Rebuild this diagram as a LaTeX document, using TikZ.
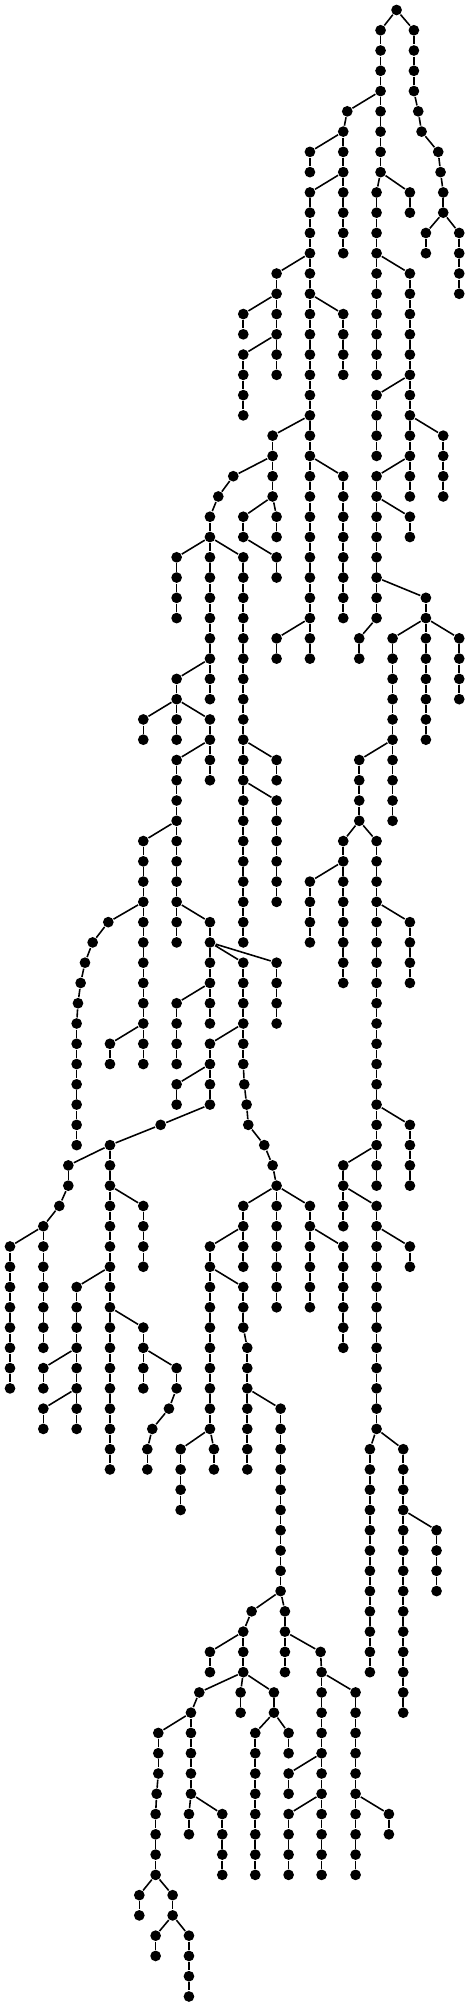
\documentclass[tikz,border=0pt]{standalone}
\usepackage{tikz}
\tikzset{
    %Define style for tree vertices
    dot/.style={
           circle,
           fill=black,
           inner sep=0pt,
           minimum size=1.07mm},
    % Define edge style
    link/.style={
           black,
           line width=0.45pt}
}
% vertical run of vertices in one column, joined top to bottom
\newcommand\chain[3]{%
  \foreach \l in {#2,...,#3}{%
    \node[dot] (n#1-\l) at (#1,\l) {};
    \ifnum\l>#2\relax
      \pgfmathtruncatemacro\prev{\l-1}%
      \draw[link] (n#1-\prev) -- (n#1-\l);
    \fi}}

\begin{document}
\begin{tikzpicture}[x=0.03333mm, y=-2.027mm]
    \useasboundingbox (0,-0.4933) rectangle (1410,98.47);
    %root and right part
    \node[dot] (n1190-0) at (1190,0) {};
    \chain{1142}{1}{8}
    \chain{1242}{1}{4}
    \chain{1255}{5}{5}
    \chain{1265}{6}{6}
    \chain{1315}{7}{7}
    \chain{1322}{8}{8}
    \chain{1330}{9}{10}
    \chain{1278}{11}{12}
    \chain{1378}{11}{14}
    \chain{1042}{5}{5}
    \chain{1030}{6}{12}
    \chain{930}{7}{8}
    \chain{930}{9}{32}
    \chain{1030}{15}{18}
    \chain{1030}{23}{30}
    \chain{830}{31}{32}
    \chain{830}{13}{18}
    \chain{730}{15}{16}
    \chain{730}{17}{20}
    \chain{818}{21}{24}
    \chain{700}{23}{23}
    \chain{655}{24}{24}
    \chain{630}{25}{34}
    \chain{530}{27}{30}
    \chain{730}{27}{46}
    \chain{830}{37}{38}
    \chain{830}{39}{44}
    \chain{730}{25}{26}
    \chain{830}{27}{28}
    \chain{830}{25}{26}
    \chain{1130}{9}{18}
    \chain{1230}{9}{10}
    \chain{1230}{13}{24}
    \chain{1130}{19}{22}
    \chain{1330}{21}{24}
    \chain{1130}{23}{30}
    \chain{1230}{25}{26}
    \chain{1078}{31}{32}
    \chain{1278}{29}{36}
    \chain{1378}{31}{34}
    \chain{1178}{31}{40}
    \chain{1078}{37}{40}
    \chain{1030}{41}{48}
    \chain{930}{43}{46}
    \chain{1130}{41}{58}
    \chain{1230}{45}{48}
    \chain{1230}{55}{58}
    \chain{1030}{57}{60}
    \chain{1130}{59}{70}
    \chain{1230}{61}{62}
    \chain{1110}{71}{82}
    \chain{1210}{71}{84}
    \chain{1310}{75}{78}
    %left part
    \chain{530}{33}{36}
    \chain{430}{35}{36}
    \chain{630}{35}{38}
    \chain{530}{37}{46}
    \chain{430}{41}{52}
    \chain{325}{45}{45}
    \chain{278}{46}{46}
    \chain{255}{47}{47}
    \chain{242}{48}{48}
    \chain{234}{49}{49}
    \chain{230}{50}{56}
    \chain{330}{51}{52}
    \chain{630}{45}{50}
    \chain{730}{47}{52}
    \chain{733}{53}{53}
    \chain{740}{54}{54}
    \chain{745}{55}{55}
    \chain{793}{56}{56}
    \chain{818}{57}{57}
    \chain{830}{47}{50}
    \chain{530}{49}{52}
    \chain{630}{51}{54}
    \chain{530}{53}{54}
    \chain{482}{55}{55}
    \chain{330}{56}{72}
    \chain{430}{59}{62}
    \chain{230}{63}{70}
    \chain{130}{67}{68}
    \chain{130}{69}{70}
    \chain{430}{65}{68}
    \chain{530}{67}{68}
    \chain{507}{69}{69}
    \chain{457}{70}{70}
    \chain{442}{71}{72}
    \chain{205}{57}{58}
    \chain{178}{59}{59}
    \chain{130}{60}{66}
    \chain{30}{61}{68}
    %lower part
    \chain{830}{58}{64}
    \chain{730}{59}{62}
    \chain{630}{61}{70}
    \chain{730}{63}{65}
    \chain{742}{66}{72}
    \chain{842}{69}{78}
    \chain{542}{71}{74}
    \chain{642}{71}{72}
    \chain{930}{59}{64}
    \chain{1030}{61}{66}
    \chain{755}{79}{79}
    \chain{730}{80}{82}
    \chain{630}{81}{82}
    \chain{855}{79}{82}
    \chain{962}{81}{81}
    \chain{965}{82}{92}
    \chain{1067}{83}{92}
    \chain{1167}{89}{90}
    \chain{866}{87}{88}
    \chain{866}{89}{92}
    \chain{598}{83}{83}
    \chain{573}{84}{88}
    \chain{475}{85}{87}
    \chain{470}{88}{88}
    \chain{467}{89}{92}
    \chain{418}{93}{94}
    \chain{518}{93}{94}
    \chain{467}{95}{96}
    \chain{567}{95}{98}
    \chain{567}{89}{90}
    \chain{667}{89}{92}
    \chain{722}{83}{84}
    \chain{822}{83}{84}
    \chain{766}{85}{92}
    \chain{866}{85}{86}
    %branching edges
    \draw[link] (n1190-0) -- (n1142-1) (n1190-0) -- (n1242-1);
    \draw[link] (n1242-4) -- (n1255-5) -- (n1265-6) -- (n1315-7) -- (n1322-8) -- (n1330-9);
    \draw[link] (n1330-10) -- (n1278-11) (n1330-10) -- (n1378-11);
    \draw[link] (n1142-4) -- (n1042-5) -- (n1030-6) (n1030-6) -- (n930-7);
    \draw[link] (n1030-8) -- (n930-9);
    \draw[link] (n930-12) -- (n830-13) (n930-14) -- (n1030-15) (n930-20) -- (n818-21);
    \draw[link] (n930-22) -- (n1030-23) (n930-30) -- (n830-31);
    \draw[link] (n830-14) -- (n730-15) (n830-16) -- (n730-17);
    \draw[link] (n818-22) -- (n700-23) -- (n655-24) -- (n630-25);
    \draw[link] (n818-24) -- (n730-25) (n818-24) -- (n830-25) (n730-26) -- (n830-27);
    \draw[link] (n630-26) -- (n530-27) (n630-26) -- (n730-27);
    \draw[link] (n730-36) -- (n830-37) (n730-38) -- (n830-39);
    \draw[link] (n1142-8) -- (n1130-9) (n1142-8) -- (n1230-9) (n1130-12) -- (n1230-13);
    \draw[link] (n1230-18) -- (n1130-19) (n1230-20) -- (n1330-21) (n1230-22) -- (n1130-23);
    \draw[link] (n1130-24) -- (n1230-25) (n1130-28) -- (n1278-29) (n1130-30) -- (n1078-31);
    \draw[link] (n1278-30) -- (n1178-31) (n1278-30) -- (n1378-31) (n1178-36) -- (n1078-37);
    \draw[link] (n1078-40) -- (n1030-41) (n1078-40) -- (n1130-41) (n1030-42) -- (n930-43);
    \draw[link] (n1130-44) -- (n1230-45) (n1130-54) -- (n1230-55) (n1130-56) -- (n1030-57);
    \draw[link] (n1030-58) -- (n1130-59) (n1130-60) -- (n1230-61);
    \draw[link] (n1130-70) -- (n1110-71) (n1130-70) -- (n1210-71) (n1210-74) -- (n1310-75);
    \draw[link] (n630-32) -- (n530-33) (n530-34) -- (n430-35) (n530-34) -- (n630-35);
    \draw[link] (n630-36) -- (n530-37) (n530-40) -- (n430-41) (n530-44) -- (n630-45);
    \draw[link] (n430-44) -- (n325-45) -- (n278-46) -- (n255-47) -- (n242-48) -- (n234-49) -- (n230-50);
    \draw[link] (n430-50) -- (n330-51);
    \draw[link] (n630-46) -- (n730-47) (n630-46) -- (n830-47) (n630-48) -- (n530-49);
    \draw[link] (n730-50) -- (n630-51);
    \draw[link] (n730-52) -- (n733-53) -- (n740-54) -- (n745-55) -- (n793-56) -- (n818-57) -- (n830-58);
    \draw[link] (n630-52) -- (n530-53) (n630-54) -- (n482-55) -- (n330-56) -- (n205-57);
    \draw[link] (n205-58) -- (n178-59) -- (n130-60) -- (n30-61);
    \draw[link] (n330-58) -- (n430-59) (n330-62) -- (n230-63) (n330-64) -- (n430-65);
    \draw[link] (n230-66) -- (n130-67) (n230-68) -- (n130-69) (n430-66) -- (n530-67);
    \draw[link] (n530-68) -- (n507-69) -- (n457-70) -- (n442-71);
    \draw[link] (n830-58) -- (n730-59) (n830-58) -- (n930-59) (n730-60) -- (n630-61);
    \draw[link] (n630-62) -- (n730-63) (n730-65) -- (n742-66) (n742-68) -- (n842-69);
    \draw[link] (n630-70) -- (n542-71) (n630-70) -- (n642-71) (n930-60) -- (n1030-61);
    \draw[link] (n842-78) -- (n755-79) -- (n730-80) (n842-78) -- (n855-79) (n730-80) -- (n630-81);
    \draw[link] (n730-82) -- (n598-83) (n730-82) -- (n722-83) (n730-82) -- (n822-83);
    \draw[link] (n855-80) -- (n962-81) -- (n965-82) -- (n1067-83);
    \draw[link] (n965-86) -- (n866-87) (n965-88) -- (n866-89) (n1067-88) -- (n1167-89);
    \draw[link] (n598-83) -- (n573-84) -- (n475-85) (n475-87) -- (n470-88) -- (n467-89);
    \draw[link] (n573-88) -- (n567-89) (n573-88) -- (n667-89);
    \draw[link] (n467-92) -- (n418-93) (n467-92) -- (n518-93);
    \draw[link] (n518-94) -- (n467-95) (n518-94) -- (n567-95);
    \draw[link] (n822-84) -- (n766-85) (n822-84) -- (n866-85);
\end{tikzpicture}
\end{document}
